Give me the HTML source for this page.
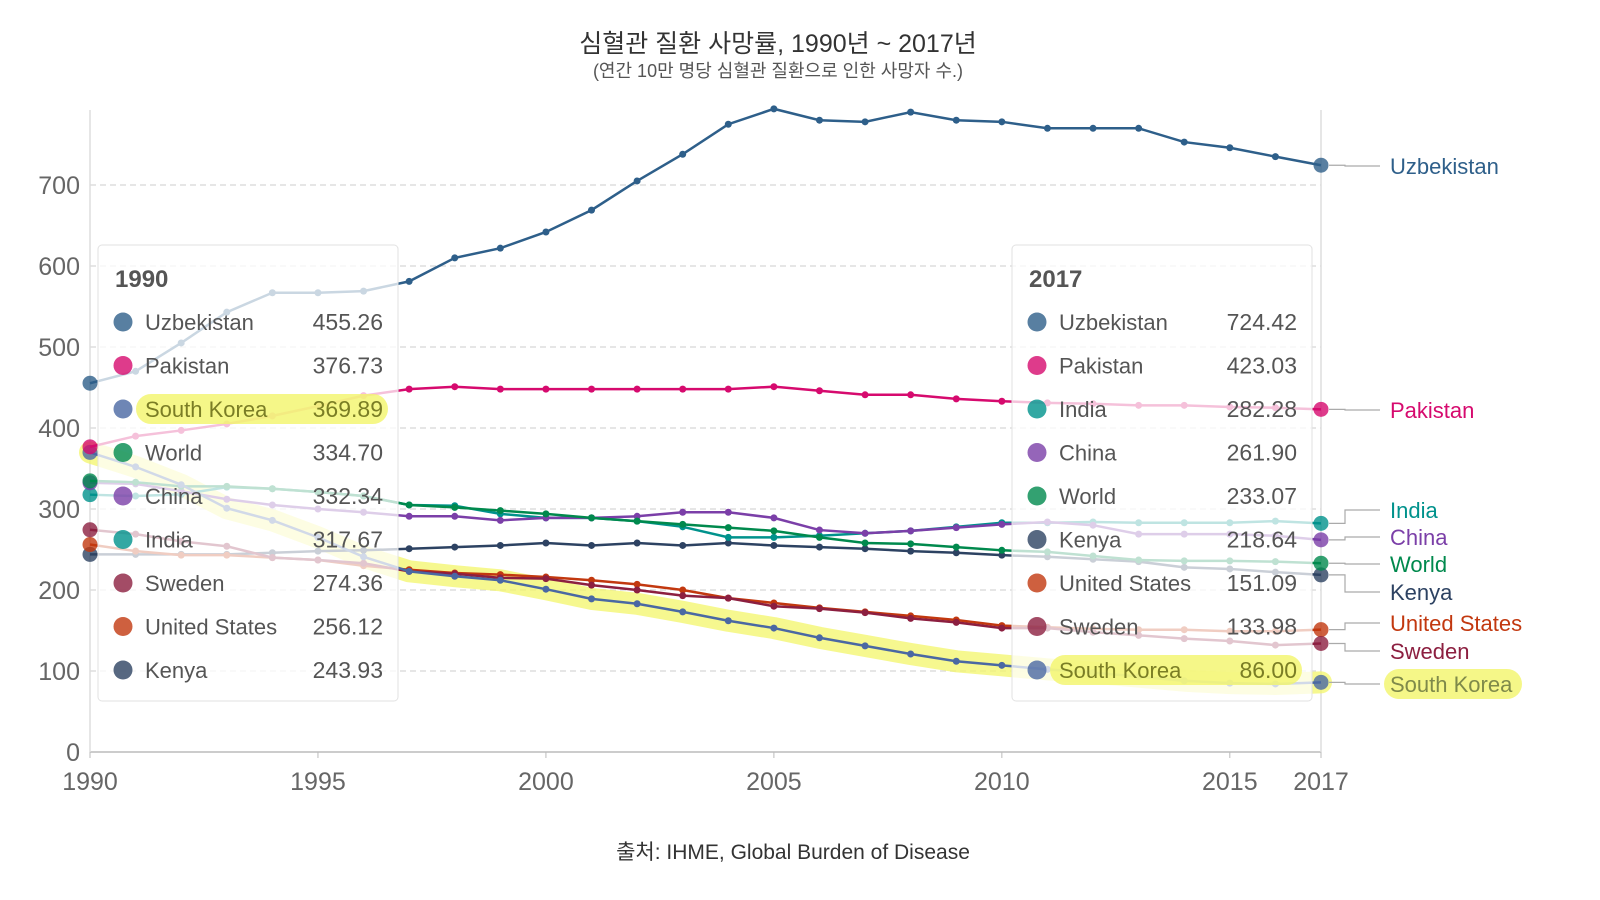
<!DOCTYPE html>
<html><head><meta charset="utf-8"><style>
body{margin:0;background:#fff;}
svg{display:block;font-family:"Liberation Sans","Noto Sans CJK KR",sans-serif;}
</style></head><body>
<svg id="c" width="1600" height="900" viewBox="0 0 1600 900">
<text x="778" y="52" text-anchor="middle" font-size="25" fill="#333">심혈관 질환 사망률, 1990년 ~ 2017년</text>
<text x="778" y="77" text-anchor="middle" font-size="18" fill="#555">(연간 10만 명당 심혈관 질환으로 인한 사망자 수.)</text>
<text x="793" y="859" text-anchor="middle" font-size="21" fill="#333">출처: IHME, Global Burden of Disease</text>
<g id="grid"></g><g id="halo"></g><g id="lines"></g><g id="tips"></g><g id="labels"></g>
</svg>
<script>
const years=[1990,1991,1992,1993,1994,1995,1996,1997,1998,1999,2000,2001,2002,2003,2004,2005,2006,2007,2008,2009,2010,2011,2012,2013,2014,2015,2016,2017];
const yTicks=[0,100,200,300,400,500,600,700];
const xTicks=[1990,1995,2000,2005,2010,2015,2017];
const uzbekistan=[455.26,470,505,543,567,567,569,581,610,622,642,669,705,738,775,794,780,778,790,780,778,770,770,770,753,746,735,724.42];
const pakistan=[376.73,390,397,405,415,427,440,448,451,448,448,448,448,448,448,451,446,441,441,436,433,431,430,428,428,426,425,423.03];
const southKorea=[369.89,352,330,301,286,265,241,223,217,212,201,189,183,173,162,153,141,131,121,112,107,102,98,93,88,85,84,86.00];
const world=[334.70,333,328,328,325,321,316,305,302,298,294,289,285,281,277,273,265,258,257,253,249,247,242,237,236,236,235,233.07];
const china=[332.34,331,322,312,305,300,296,291,291,286,289,289,291,296,296,289,274,270,273,277,281,284,280,269,269,269,267,261.90];
const india=[317.67,316,318,327,325,321,316,305,304,294,289,289,285,278,265,265,267,270,273,278,283,283,284,283,283,283,285,282.28];
const sweden=[274.36,269,260,254,240,237,233,223,220,215,214,206,200,193,190,180,177,172,165,160,153,153,148,144,140,137,132,133.98];
const unitedStates=[256.12,248,243,243,240,237,230,225,221,219,216,212,207,200,190,184,178,173,168,163,156,154,152,151,151,149,149,151.09];
const kenya=[243.93,244,244,244,246,248,249,251,253,255,258,255,258,255,258,255,253,251,248,246,243,241,238,235,228,226,222,218.64];
const names=["Uzbekistan","Pakistan","South Korea","World","China","India","Sweden","United States","Kenya"];
const series=[uzbekistan,pakistan,southKorea,world,china,india,sweden,unitedStates,kenya];
const colors=["#2e5f8a","#d60a6e","#4a68a3","#00894d","#7b3fa8","#00928c","#8c1f40","#c2380f","#2d4262"];
const X=y=>90+(y-1990)*(1321-90)/27;
const Y=v=>752-v*0.81;
const NS="http://www.w3.org/2000/svg";
function mk(tag,attrs,parent,text){const e=document.createElementNS(NS,tag);for(const k in attrs)e.setAttribute(k,attrs[k]);if(text!==undefined)e.textContent=text;parent.appendChild(e);return e;}
const grid=document.getElementById('grid');
yTicks.forEach(t=>{
  const l=mk('line',{x1:90,x2:1321,y1:Y(t),y2:Y(t),stroke:t?"#ddd":"#bbb","stroke-width":t?1.5:1.5,"stroke-dasharray":t?"6,4":"none"},grid);
  
  
  const tx=mk('text',{x:80,y:Y(t)+9,"text-anchor":"end","font-size":25,fill:"#666"},grid,String(t));
  
  
});
xTicks.forEach(t=>{
  const tx=mk('text',{x:X(t),y:790,"text-anchor":"middle","font-size":25,fill:"#666"},grid,String(t));
  
  
  const tk=mk('line',{x1:X(t),x2:X(t),y1:752,y2:758,stroke:"#bbb"},grid);
  
  
});
[1990,2017].forEach(t=>{
  const l=mk('line',{x1:X(t),x2:X(t),y1:110,y2:752,stroke:"#ddd","stroke-width":1.5},grid);
  
  
});
const pts=s=>s.map((v,i)=>X(years[i])+","+Y(v)).join(" ");
const halo=mk('polyline',{points:pts(southKorea),fill:"none",stroke:"#f3f56a","stroke-width":22,"stroke-linejoin":"round","stroke-linecap":"round",opacity:0.75},document.getElementById('halo'));


const lines=document.getElementById('lines');
series.slice().reverse().forEach((s,ri)=>{
  const i=series.length-1-ri;
  const g=mk('g',{},lines);
  
  
  mk('polyline',{points:pts(s),fill:"none",stroke:colors[i],"stroke-width":2.5},g);
  s.forEach((v,j)=>{
    const end=(j===0||j===s.length-1);
    const c=mk('circle',{cx:X(years[j]),cy:Y(v),r:end?7.5:3.5,fill:colors[i],opacity:end?0.8:1},g);
    
    
  });
});
const tips=document.getElementById('tips');
function tooltip(x,idx,title){
  const g=mk('g',{},tips);
  
  
  mk('rect',{x:x,y:245,width:300,height:456,rx:4,fill:"#fff","fill-opacity":0.75,stroke:"#e2e2e2"},g);
  mk('text',{x:x+17,y:287,"font-size":24,"font-weight":"bold",fill:"#555"},g,title);
  const order=names.map((n,i)=>i).sort((a,b)=>series[b][idx]-series[a][idx]);
  order.forEach((si,r)=>{
    const yy=322+r*43.5;
    if(names[si]==="South Korea"){
      const h=mk('rect',{x:x+38,y:yy-15,width:252,height:30,rx:15,fill:"#f3f56a",opacity:0.8},g);
      
      
    }
    const c=mk('circle',{cx:x+25,cy:yy,r:9.5,fill:colors[si],opacity:0.8},g);
    
    
    const hl=names[si]==="South Korea";
    const t1=mk('text',{x:x+47,y:yy+8,"font-size":22,fill:hl?"#7a7d25":"#555"},g,names[si]);
    
    
    const t2=mk('text',{x:x+285,y:yy+8,"font-size":23,"text-anchor":"end",fill:hl?"#7a7d25":"#555"},g,series[si][idx].toFixed(2));
    
    
  });
}
tooltip(98,0,"1990");
tooltip(1012,27,"2017");
const labelY={"Uzbekistan":166,"Pakistan":410,"India":510,"China":537,"World":564,"Kenya":592,"United States":623,"Sweden":651,"South Korea":684};
const lab=document.getElementById('labels');
names.forEach((n,i)=>{
  const y0=Y(series[i][27]),y1=labelY[n];
  const p=mk('polyline',{points:`1329,${y0} 1345,${y0} 1345,${y1} 1380,${y1}`,fill:"none",stroke:"#aaa","stroke-width":1.2},lab);
  
  
  if(n==="South Korea"){
    const h=mk('rect',{x:1384,y:y1-15,width:138,height:30,rx:15,fill:"#f3f56a",opacity:0.8},lab);
    
    
  }
  const t=mk('text',{x:1390,y:y1+8,"font-size":22,fill:n==="South Korea"?"#7f8a4a":colors[i]},lab,n);
  
  
});
</script>
</body></html>
